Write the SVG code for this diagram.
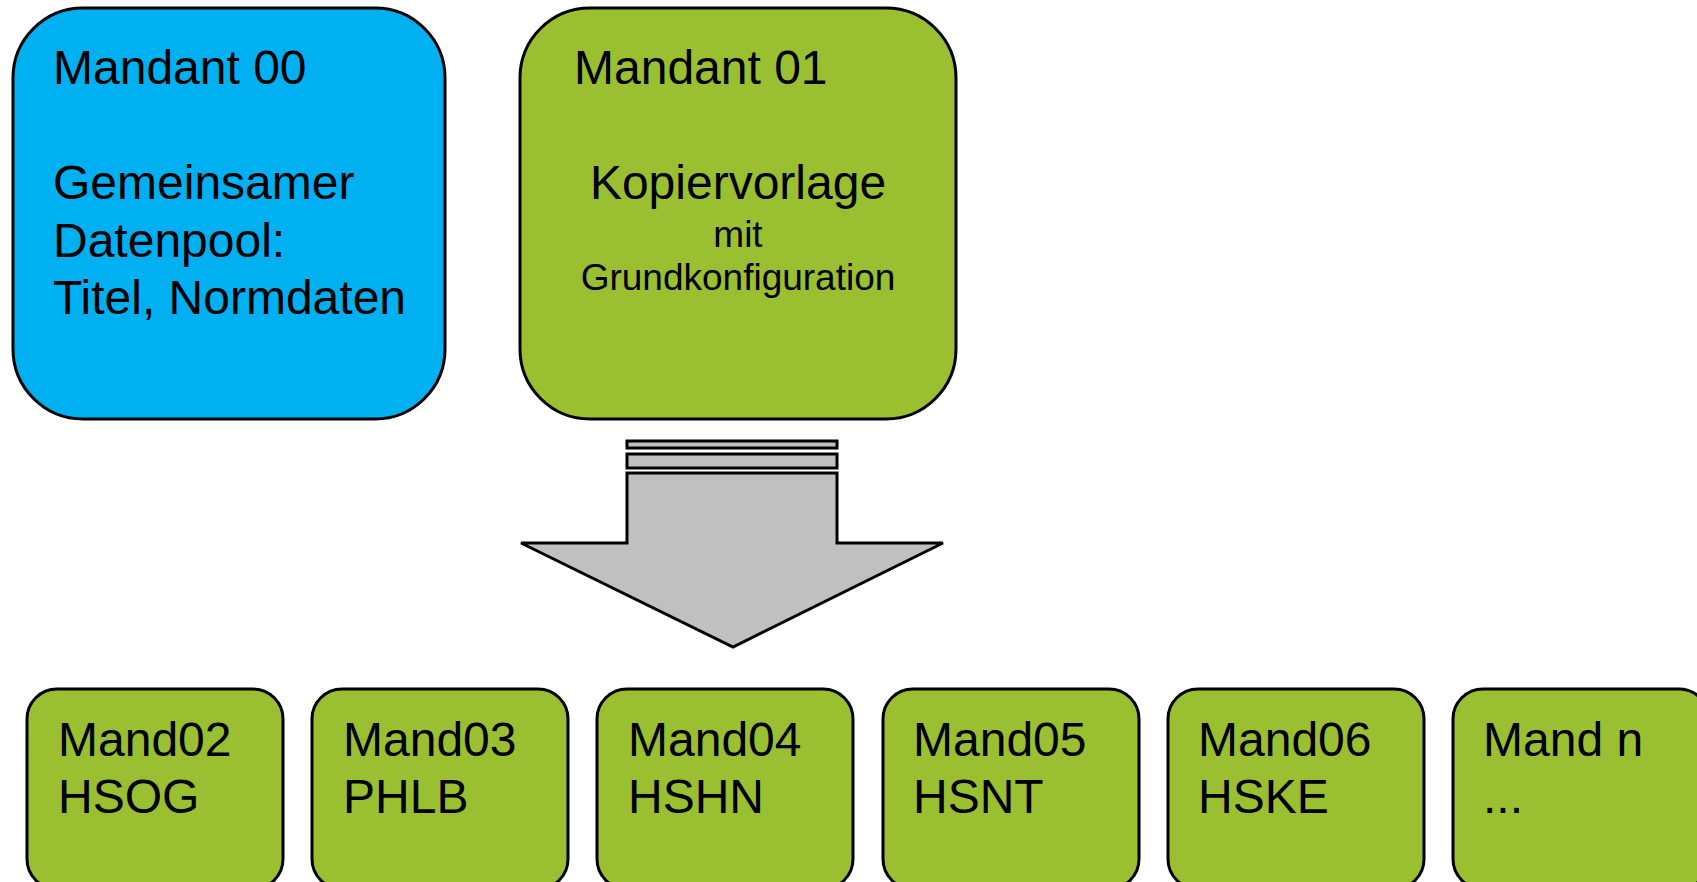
<svg xmlns="http://www.w3.org/2000/svg" width="1697" height="882" viewBox="0 0 1697 882">
<style>
.big{fill:#00B0F0;stroke:#000;stroke-width:3}
.grn{fill:#9ABF31;stroke:#000;stroke-width:3}
.t{font-family:"Liberation Sans",Arial,sans-serif;font-size:48px;fill:#000}
.s{font-family:"Liberation Sans",Arial,sans-serif;font-size:37px;fill:#000}
.arr{fill:#C0C0C0;stroke:#000;stroke-width:3;stroke-linejoin:miter}
</style>
<rect width="1697" height="882" fill="#fff"/>
<g id="mandant00">
<rect class="big" x="13" y="8" width="432" height="411" rx="70" ry="70"/>
<text class="t" x="53" y="84">Mandant 00</text>
<text class="t" x="53" y="199">Gemeinsamer</text>
<text class="t" x="53" y="257">Datenpool:</text>
<text class="t" x="53" y="314">Titel, Normdaten</text>
</g>
<g id="mandant01">
<rect class="grn" x="520" y="8" width="436" height="411" rx="70" ry="70"/>
<text class="t" x="574" y="84">Mandant 01</text>
<text class="t" x="738" y="199" text-anchor="middle">Kopiervorlage</text>
<text class="s" x="738" y="247" text-anchor="middle">mit</text>
<text class="s" x="738" y="290" text-anchor="middle">Grundkonfiguration</text>
</g>
<g id="connectors">
<rect class="arr" x="627" y="441" width="210" height="7"/>
<rect class="arr" x="627" y="454" width="210" height="14"/>
<polygon class="arr" points="627,473 837,473 837,543 943,543 733,647 521,543 627,543"/>
</g>
<g id="mand02">
<rect class="grn" x="27" y="689" width="256" height="200" rx="30" ry="30"/>
<text class="t" x="58" y="756">Mand02</text>
<text class="t" x="58" y="813">HSOG</text>
</g>
<g id="mand03">
<rect class="grn" x="312" y="689" width="256" height="200" rx="30" ry="30"/>
<text class="t" x="343" y="756">Mand03</text>
<text class="t" x="343" y="813">PHLB</text>
</g>
<g id="mand04">
<rect class="grn" x="597" y="689" width="256" height="200" rx="30" ry="30"/>
<text class="t" x="628" y="756">Mand04</text>
<text class="t" x="628" y="813">HSHN</text>
</g>
<g id="mand05">
<rect class="grn" x="883" y="689" width="256" height="200" rx="30" ry="30"/>
<text class="t" x="913" y="756">Mand05</text>
<text class="t" x="913" y="813">HSNT</text>
</g>
<g id="mand06">
<rect class="grn" x="1168" y="689" width="256" height="200" rx="30" ry="30"/>
<text class="t" x="1198" y="756">Mand06</text>
<text class="t" x="1198" y="813">HSKE</text>
</g>
<g id="mandn">
<rect class="grn" x="1453" y="689" width="256" height="200" rx="30" ry="30"/>
<text class="t" x="1483" y="756">Mand n</text>
<text class="t" x="1483" y="813">...</text>
</g>
</svg>
